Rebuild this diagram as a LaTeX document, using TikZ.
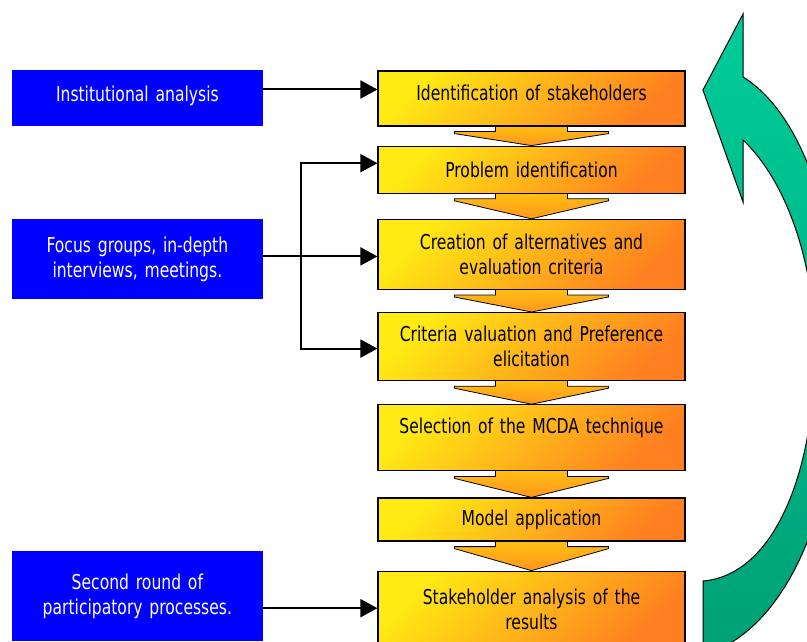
\documentclass[tikz,border=0pt]{standalone}
\usepackage{fontspec}
\setmainfont{DejaVu Sans}[FakeStretch=0.76]
\usepackage{tikz}
\usetikzlibrary{positioning,calc,arrows.meta,backgrounds}

\definecolor{stepyellow}{RGB}{255,234,20}
\definecolor{steporange}{RGB}{255,128,32}
\definecolor{chevorange}{RGB}{255,150,30}
\definecolor{inputblue}{RGB}{0,0,255}
\definecolor{loopgreen}{RGB}{0,204,153}
\definecolor{loopdark}{RGB}{0,160,118}

\newcommand{\boxfont}{\fontsize{20.5}{25}\selectfont}

% wide arrow between two steps
\newcommand{\stepchevron}[2]{%
  \draw[chevron] ($(#1.south)+(-36,-4)$) -- ($(#1.south)+(-36,5)$)
    -- ($(#1.south)+(-77,5)$) -- ($(#1.south)+(-77,7)$) -- (#2.north)
    -- ($(#1.south)+(77,7)$) -- ($(#1.south)+(77,5)$)
    -- ($(#1.south)+(36,5)$) -- ($(#1.south)+(36,-4)$) -- cycle;
}

\begin{document}
\begin{tikzpicture}[
    x=1pt,
    y=-1pt,
    node distance=25pt,
    stepbox/.style={
        rectangle,
        draw=black,
        line width=1.2pt,
        minimum width=307pt,
        text width=300pt,
        align=center,
        top color=stepyellow,
        bottom color=steporange,
        shading angle=45,
        font=\boxfont
    },
    inputbox/.style={
        rectangle,
        fill=inputblue,
        text=white,
        minimum width=251pt,
        text width=245pt,
        align=center,
        font=\boxfont
    },
    chevron/.style={
        draw=black,
        line width=0.8pt,
        top color=chevorange!55!yellow,
        bottom color=chevorange
    },
    cyclearrow/.style={
        draw=black,
        line width=1pt,
        top color=loopgreen,
        bottom color=loopdark
    },
    arrow/.style={-{Triangle[length=17pt,width=18pt]}, line width=2pt}
]
    \path[use as bounding box, clip] (0,0) rectangle (807,642);

    % Steps of the process
    \node[stepbox, minimum height=55pt, text depth=12pt] (ident) at (531.5,98.5) {Identification of stakeholders};
    \node[stepbox, minimum height=47pt, below=19pt of ident] (probid) {Problem identification};
    \node[stepbox, minimum height=70pt, below=25pt of probid] (altern) {Creation of alternatives and\\evaluation criteria};
    \node[stepbox, minimum height=68pt, below=22pt of altern] (critval) {Criteria valuation and Preference\\elicitation};
    \node[stepbox, minimum height=66pt, below=23pt of critval, text depth=24pt] (mcda) {Selection of the MCDA technique};
    \node[stepbox, minimum height=43pt, below=26pt of mcda] (model) {Model application};
    \node[stepbox, minimum height=76pt, below=29pt of model] (results) {Stakeholder analysis of the\\results};

    % Inputs
    \node[inputbox, minimum height=56pt, left=114pt of ident, text depth=9pt] (inst) {Institutional analysis};
    \node[inputbox, minimum height=80pt, left=114pt of altern, yshift=-5pt] (focus) {Focus groups, in-depth\\interviews, meetings.};
    \node[inputbox, minimum height=90pt, left=114pt of results, yshift=13pt] (second) {Second round of\\participatory processes.};

    % Arrows between the steps
    \begin{scope}[on background layer]
        \stepchevron{ident}{probid}
        \stepchevron{probid}{altern}
        \stepchevron{altern}{critval}
        \stepchevron{critval}{mcda}
        \stepchevron{mcda}{model}
        \stepchevron{model}{results}
    \end{scope}

    % Inputs to the steps
    \draw[arrow] ([yshift=9pt]inst.east) -- ([yshift=9pt]inst.east -| ident.west);

    \draw[arrow] ([yshift=3pt]focus.east) -- ([yshift=3pt]focus.east -| altern.west);
    \coordinate (split) at ([xshift=38pt,yshift=3pt]focus.east);
    \draw[arrow] (split) |- ([yshift=6.5pt]probid.west);
    \draw[arrow] (split) |- ([yshift=-2pt]critval.west);

    \draw[arrow] ([yshift=-12pt]second.east) -- ([yshift=-12pt]second.east -| results.west);

    % Feedback loop
    \draw[cyclearrow] (743,14) -- (743,77)
        .. controls (805,115) and (840,230) .. (840,350)
        .. controls (840,500) and (790,630) .. (703,655)
        -- (703,581)
        .. controls (775,575) and (815,470) .. (815,350)
        .. controls (815,270) and (790,185) .. (743,140)
        -- (743,202) -- (703,90) -- cycle;
\end{tikzpicture}
\end{document}
